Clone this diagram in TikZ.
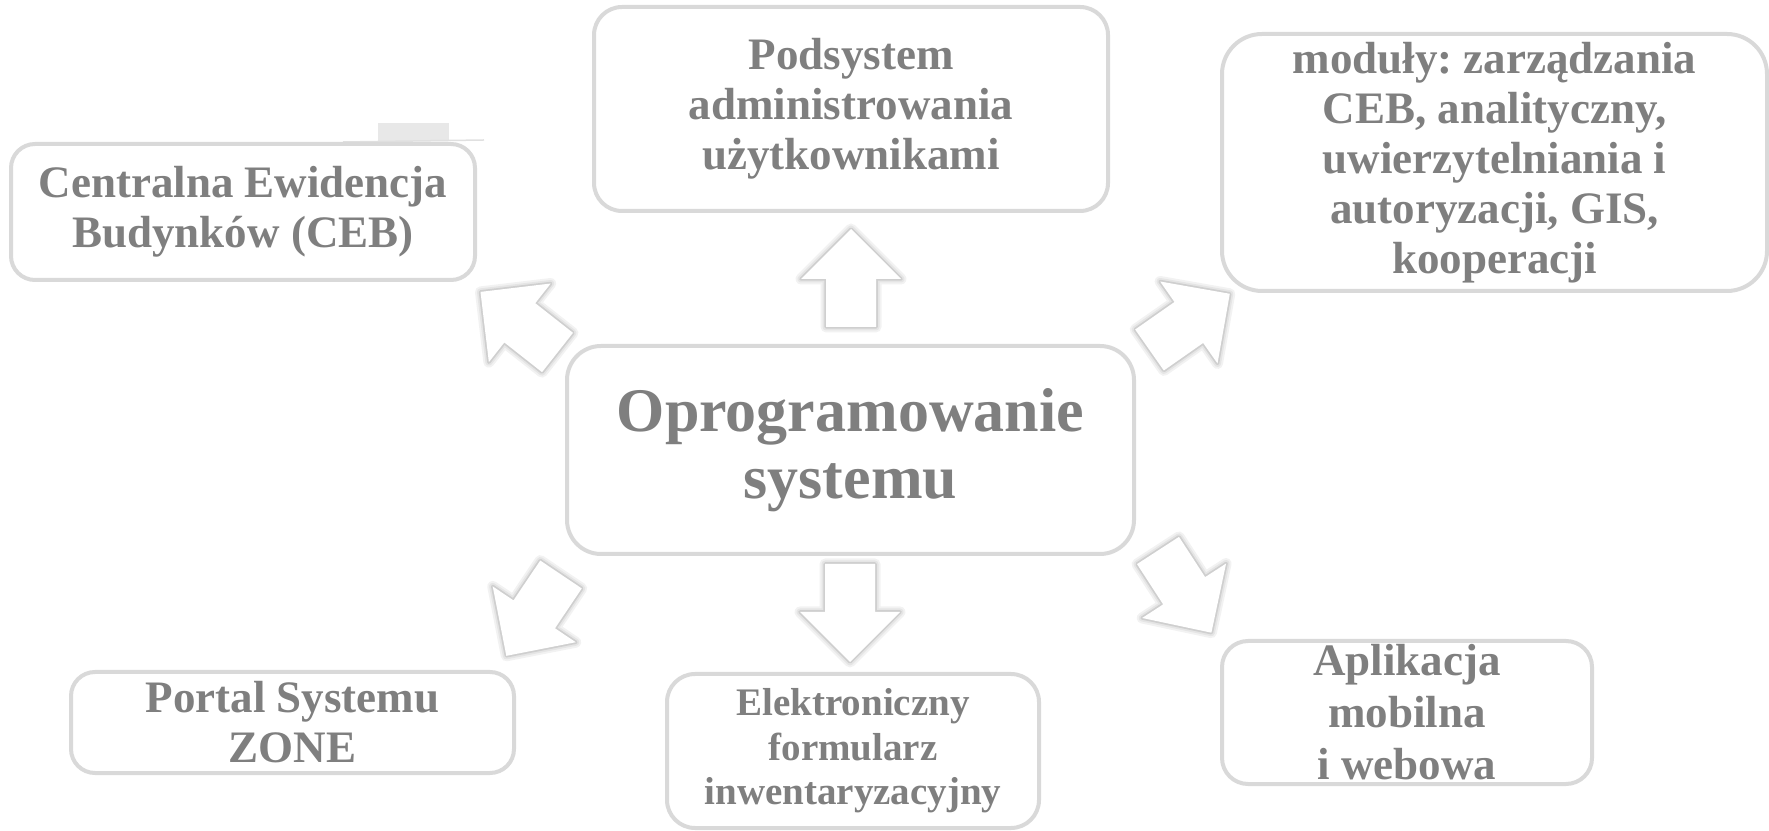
\documentclass[tikz,border=0pt]{standalone}
\usepackage{fontspec}
\setmainfont{Liberation Serif}
\frenchspacing
\definecolor{txtgray}{HTML}{7F7F7F}
\definecolor{boxgray}{HTML}{D9D9D9}
\newcommand{\boxfont}{\fontsize{45}{50}\selectfont\bfseries}
\newcommand{\formfont}{\fontsize{39}{44.6}\selectfont\bfseries}
\newcommand{\cenfont}{\fontsize{62}{67}\selectfont\bfseries}
\newcommand{\arrowshape}{(0,-25) -- (48,-25) -- (48,-50) -- (98,0) -- (48,50) -- (48,25) -- (0,25) -- cycle}
\tikzset{
  blockarrow/.pic={
    \draw[line width=11pt,black!5,line join=round] \arrowshape;
    \draw[line width=7pt,black!10,line join=round] \arrowshape;
    \draw[line width=3.5pt,black!19,line join=round] \arrowshape;
    \fill[white] \arrowshape;
  }
}
\begin{document}
\begin{tikzpicture}[x=1pt,y=1pt,
  box/.style={draw=boxgray,line width=4pt,rounded corners=28pt,fill=white,text=txtgray,align=center,inner sep=0pt,font=\boxfont}]
\useasboundingbox (0,0) rectangle (1769,830);
\fill[black!9] (378,689) rectangle (449,707);
\draw[black!12,line width=1.5pt] (343,688) -- (484,690);
\node[box,minimum width=567,minimum height=208,rounded corners=34pt,font=\cenfont] (cen) at (850.5,380) {Oprogramowanie\\systemu};
\node[box,minimum width=514,minimum height=204] (admin) at (851,721) {Podsystem\\administrowania\\użytkownikami};
\node[box,minimum width=545,minimum height=257,rounded corners=40pt] (modules) at (1494.5,667.5) {moduły: zarządzania\\CEB, analityczny,\\uwierzytelniania i\\autoryzacji, GIS,\\kooperacji};
\node[box,minimum width=464,minimum height=136,rounded corners=24pt] (ceb) at (243,618) {Centralna Ewidencja\\Budynków (CEB)};
\node[box,minimum width=443,minimum height=101,rounded corners=24pt] (portal) at (292.5,107.5) {Portal Systemu\\ZONE};
\node[box,minimum width=372,minimum height=154,font=\formfont] (form) at (853,79) {Elektroniczny\\formularz\\inwentaryzacyjny};
\node[box,minimum width=370,minimum height=143,rounded corners=26pt,font=\fontsize{45}{52}\selectfont\bfseries] (app) at (1407,117.5) {Aplikacja\\mobilna\\i webowa};
\pic[rotate=90] at (851,503) {blockarrow};
\pic[rotate=270] at (850,266) {blockarrow};
\pic[rotate=141.8] at (557.5,477.5) {blockarrow};
\pic[rotate=35] at (1149.5,480) {blockarrow};
\pic[rotate=236.1] at (561,255.5) {blockarrow};
\pic[rotate=303] at (1158,279.5) {blockarrow};
\end{tikzpicture}
\end{document}
